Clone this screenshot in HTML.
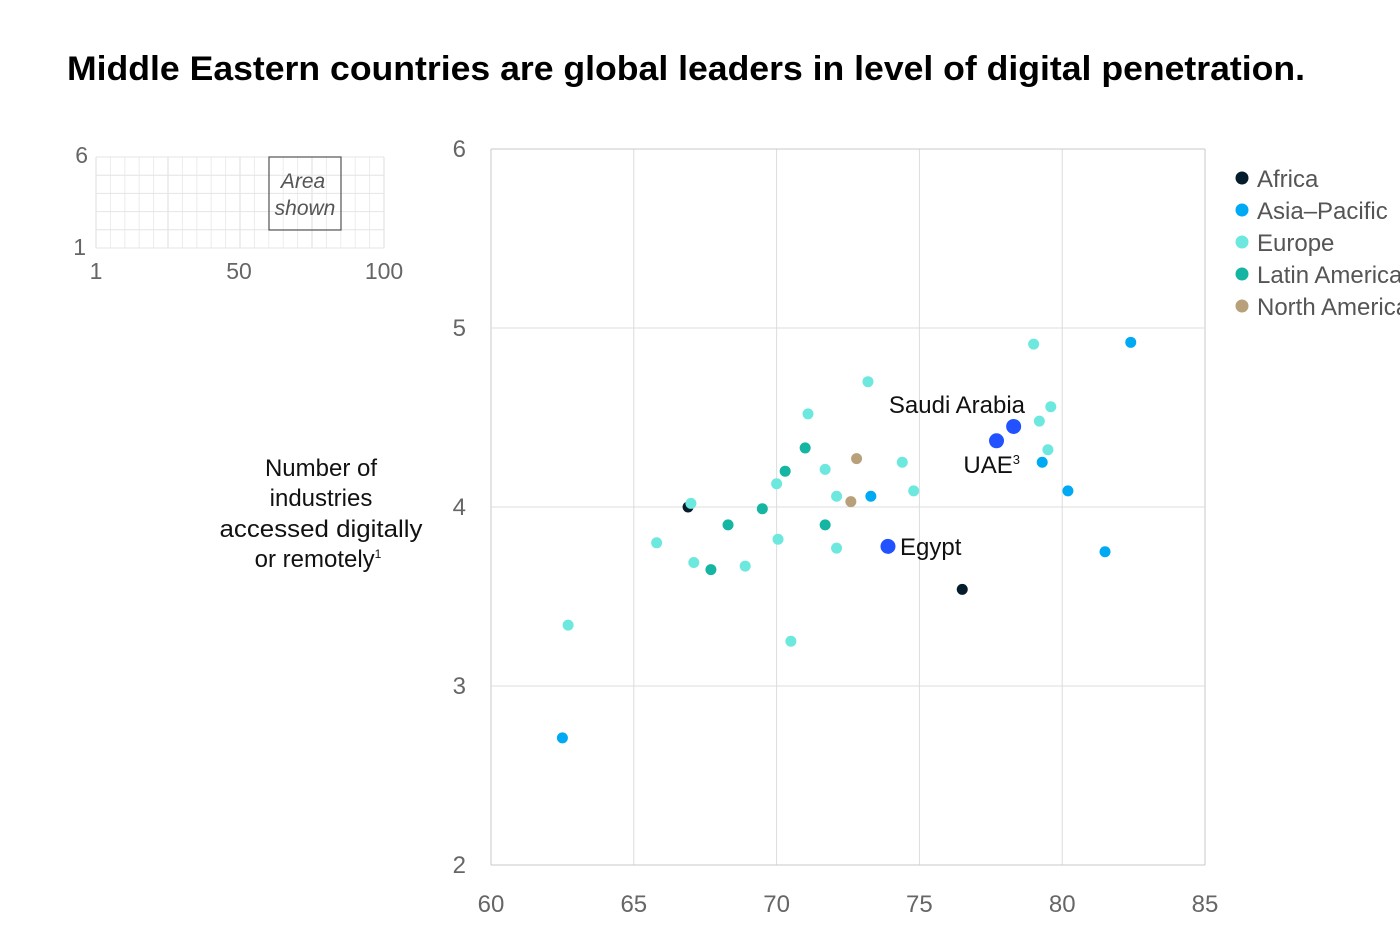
<!DOCTYPE html>
<html><head><meta charset="utf-8"><style>
body{margin:0;background:#fff;width:1400px;height:942px;overflow:hidden;font-family:"Liberation Sans",sans-serif}
</style></head><body>
<svg width="1400" height="942" font-family="Liberation Sans, sans-serif">
<text x="67" y="80" font-size="34" font-weight="bold" fill="#000" textLength="1238" lengthAdjust="spacingAndGlyphs">Middle Eastern countries are global leaders in level of digital penetration.</text>
<g id="inset"></g>
<g id="main"></g>
<text text-anchor="middle" font-size="24" fill="#111"><tspan x="321" y="476">Number of</tspan><tspan x="321" y="506">industries</tspan><tspan x="321" y="537" textLength="203" lengthAdjust="spacingAndGlyphs">accessed digitally</tspan><tspan x="318" y="567">or remotely<tspan font-size="12" dy="-9">1</tspan></tspan></text>
<g id="legend"></g>
</svg>
<script>
const regions=["Africa","Asia–Pacific","Europe","Latin America","North America"];
const colors=["#051c2c","#00a9f4","#6de8de","#14b5a2","#b8a07a"];
const xTicks=[60,65,70,75,80,85];
const yTicks=[2,3,4,5,6];
const ptX=[66.9,76.5, 62.5,73.3,79.3,80.2,81.5,82.4, 62.7,65.8,67.0,67.1,68.9,70.0,70.05,70.5,71.1,71.7,72.1,72.1,73.2,74.4,74.8,79.0,79.2,79.6,79.5, 67.7,68.3,69.5,70.3,71.0,71.7, 72.8,72.6];
const ptY=[4.0,3.54, 2.71,4.06,4.25,4.09,3.75,4.92, 3.34,3.80,4.02,3.69,3.67,4.13,3.82,3.25,4.52,4.21,4.06,3.77,4.70,4.25,4.09,4.91,4.48,4.56,4.32, 3.65,3.90,3.99,4.20,4.33,3.90, 4.27,4.03];
const ptRegion=[0,0, 1,1,1,1,1,1, 2,2,2,2,2,2,2,2,2,2,2,2,2,2,2,2,2,2,2, 3,3,3,3,3,3, 4,4];
const hlNames=["Saudi Arabia","UAE","Egypt"];
const hlX=[78.3,77.7,73.9];
const hlY=[4.45,4.37,3.78];
const NS="http://www.w3.org/2000/svg";
function mk(t,a,p){const e=document.createElementNS(NS,t);for(const k in a)e.setAttribute(k,a[k]);p.appendChild(e);return e;}
const X0=491,X1=1205,Y0=865,Y1=149;
const sx=v=>X0+(v-60)/25*(X1-X0), sy=v=>Y0-(v-2)/4*(Y0-Y1);
const main=document.getElementById('main');


xTicks.forEach(t=>{
 const l=mk('line',{x1:sx(t),x2:sx(t),y1:Y1,y2:Y0,stroke:t==60||t==85?'#c8c8c8':'#dcdcdc'},main);
 
 
 const tx=mk('text',{x:sx(t),y:912,'text-anchor':'middle','font-size':24,fill:'#666'},main);tx.textContent=t;
 
 
});
yTicks.forEach(t=>{
 const l=mk('line',{x1:X0,x2:X1,y1:sy(t),y2:sy(t),stroke:t==2||t==6?'#c8c8c8':'#dcdcdc'},main);
 
 
 const tx=mk('text',{x:466,y:sy(t)+8,'text-anchor':'end','font-size':24,fill:'#666'},main);tx.textContent=t;
 
 
});
ptX.forEach((v,i)=>{
 const c=mk('circle',{cx:sx(v),cy:sy(ptY[i]),r:5.5,fill:colors[ptRegion[i]]},main);
 
 
});
hlX.forEach((v,i)=>{
 const c=mk('circle',{cx:sx(v),cy:sy(hlY[i]),r:7.5,fill:'#2251ff'},main);
 
 
});
const lab=[[1025,413,'end'],[1020,473,'end'],[900,555,'start']];
hlNames.forEach((n,i)=>{
 const t=mk('text',{x:lab[i][0],y:lab[i][1],'text-anchor':lab[i][2],'font-size':24,fill:'#111'},main);
 t.textContent=n;
 if(n=="UAE"){const s=mk('tspan',{'font-size':13,dy:-9},t);s.textContent='3';}
 
 
});
const ins=document.getElementById('inset');
const IX0=96,IX1=384,IY0=248,IY1=157;
for(let i=0;i<=20;i++){const x=IX0+i*(IX1-IX0)/20;mk('line',{x1:x,x2:x,y1:IY1,y2:IY0,stroke:i%5==0?'#dedede':'#ececec'},ins);}
for(let i=0;i<=5;i++){const y=IY1+i*(IY0-IY1)/5;mk('line',{x1:IX0,x2:IX1,y1:y,y2:y,stroke:'#e4e4e4'},ins);}
mk('rect',{x:269,y:157,width:72,height:73,fill:'none',stroke:'#555','stroke-width':1.2},ins);
const it=mk('text',{'text-anchor':'middle','font-size':21,'font-style':'italic',fill:'#555'},ins);
it.innerHTML='<tspan x="303" y="188">Area</tspan><tspan x="305" y="215">shown</tspan>';
[[88,163,'end','6'],[86,255,'end','1'],[96,279,'middle','1'],[239,279,'middle','50'],[384,279,'middle','100']].forEach(a=>{const t=mk('text',{x:a[0],y:a[1],'text-anchor':a[2],'font-size':23,fill:'#666'},ins);t.textContent=a[3];});
const lg=document.getElementById('legend');


regions.forEach((r,i)=>{
 const g=mk('g',{},lg);
 
 
 mk('circle',{cx:1242,cy:178+i*32,r:6.5,fill:colors[i]},g);
 const t=mk('text',{x:1257,y:187+i*32,'font-size':24,fill:'#555'},g);t.textContent=r;
});
</script>
</body></html>
